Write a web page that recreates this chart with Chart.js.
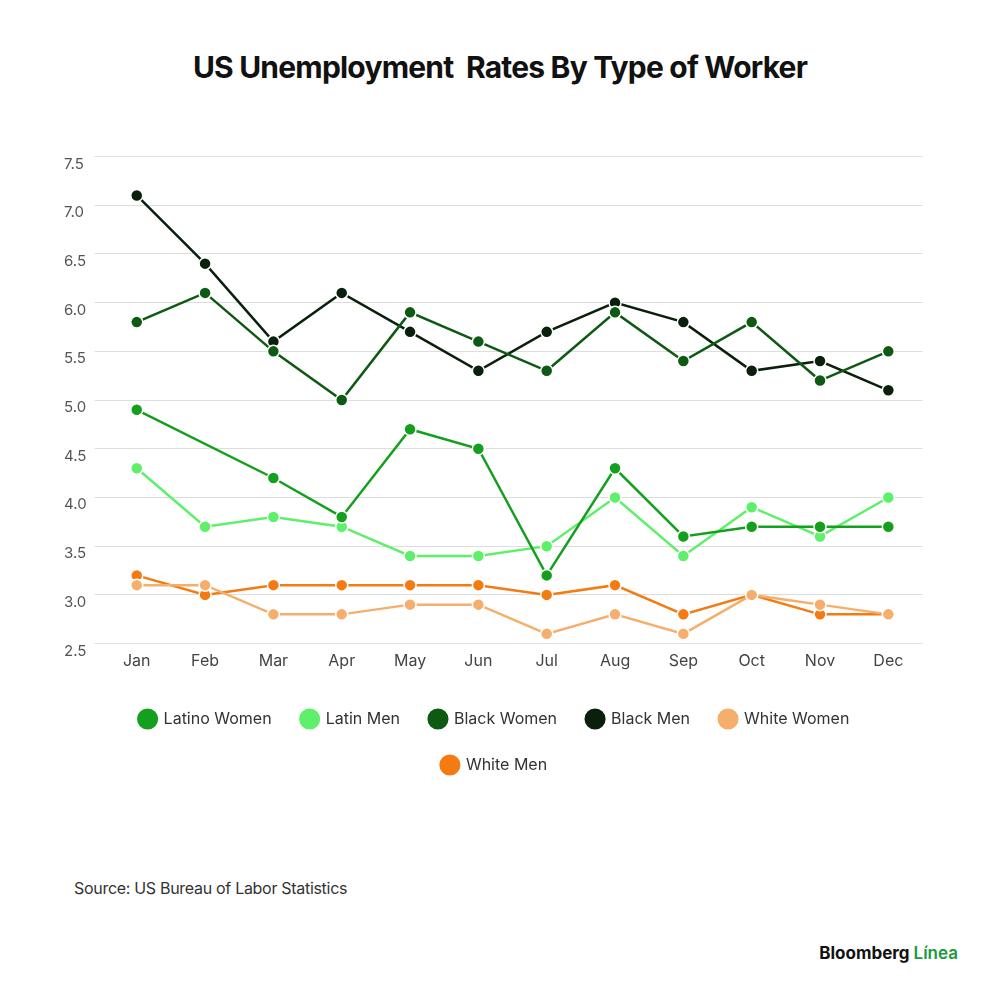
<!DOCTYPE html>
<html><head><meta charset="utf-8">
<script src="https://cdn.jsdelivr.net/npm/chart.js@4"></script>
<style>
body{margin:0;background:#fff;font-family:Inter,"Noto Sans",sans-serif;}
#wrap{position:relative;width:1000px;height:997px;}
h1{position:absolute;top:49px;left:0;width:1000px;text-align:center;margin:0;font-size:30px;font-weight:700;color:#111;letter-spacing:-0.8px;}
#src{position:absolute;left:74px;top:878px;font-size:16px;color:#333;letter-spacing:-0.3px;}
#logo{position:absolute;right:42px;top:943px;font-size:17px;font-weight:700;color:#111;}
#logo span{color:#1a9a3a;font-weight:600;}
#c{position:absolute;left:60px;top:149px;}
</style></head><body>
<div id="wrap">
<h1>US Unemployment&nbsp; Rates By Type of Worker</h1>
<div id="cw"><canvas id="c" width="870" height="634"></canvas></div>
<div id="src">Source: US Bureau of Labor Statistics</div>
<div id="logo">Bloomberg <span>Línea</span></div>
</div>
<script>
const months=["Jan","Feb","Mar","Apr","May","Jun","Jul","Aug","Sep","Oct","Nov","Dec"];
const latinoWomen=[4.9,null,4.2,3.8,4.7,4.5,3.2,4.3,3.6,3.7,3.7,3.7];
const latinMen=[4.3,3.7,3.8,3.7,3.4,3.4,3.5,4.0,3.4,3.9,3.6,4.0];
const blackWomen=[5.8,6.1,5.5,5.0,5.9,5.6,5.3,5.9,5.4,5.8,5.2,5.5];
const blackMen=[7.1,6.4,5.6,6.1,5.7,5.3,5.7,6.0,5.8,5.3,5.4,5.1];
const whiteWomen=[3.1,3.1,2.8,2.8,2.9,2.9,2.6,2.8,2.6,3.0,2.9,2.8];
const whiteMen=[3.2,3.0,3.1,3.1,3.1,3.1,3.0,3.1,2.8,3.0,2.8,2.8];
const yTicks=[2.5,3.0,3.5,4.0,4.5,5.0,5.5,6.0,6.5,7.0,7.5];
function ds(label,data,color){return {label,data,borderColor:color,backgroundColor:color,pointBackgroundColor:color,pointBorderColor:'#fff',pointBorderWidth:1.5,pointRadius:6,borderWidth:2.5,spanGaps:true,tension:0};}
new Chart(document.getElementById('c'),{type:'line',
data:{labels:months,datasets:[
ds('Latino Women',latinoWomen,'#14a01e'),
ds('Latin Men',latinMen,'#5ef06a'),
ds('Black Women',blackWomen,'#0e5a12'),
ds('Black Men',blackMen,'#0a200c'),
ds('White Women',whiteWomen,'#f6ae6c'),
ds('White Men',whiteMen,'#f47b12')]},
options:{responsive:false,animation:false,
layout:{padding:{left:4,right:5,top:0}},
plugins:{legend:{position:'bottom',title:{display:true,text:' ',font:{size:1},padding:{top:0,bottom:9}},labels:{usePointStyle:true,pointStyle:'circle',boxWidth:20,boxHeight:20,padding:30,color:'#333',font:{family:'Inter',size:16}}},tooltip:{enabled:false}},
scales:{
x:{offset:true,grid:{display:false},border:{display:false},ticks:{color:'#444',font:{family:'Inter',size:16},padding:0}},
y:{min:2.5,max:7.5,afterBuildTicks:a=>{a.ticks=yTicks.map(v=>({value:v}));},grid:{color:'#ddd'},border:{display:false},
ticks:{color:'#555',font:{family:'Inter',size:15},callback:v=>v.toFixed(1),align:'start',crossAlign:'far',padding:4}}
}}});
</script></body></html>
